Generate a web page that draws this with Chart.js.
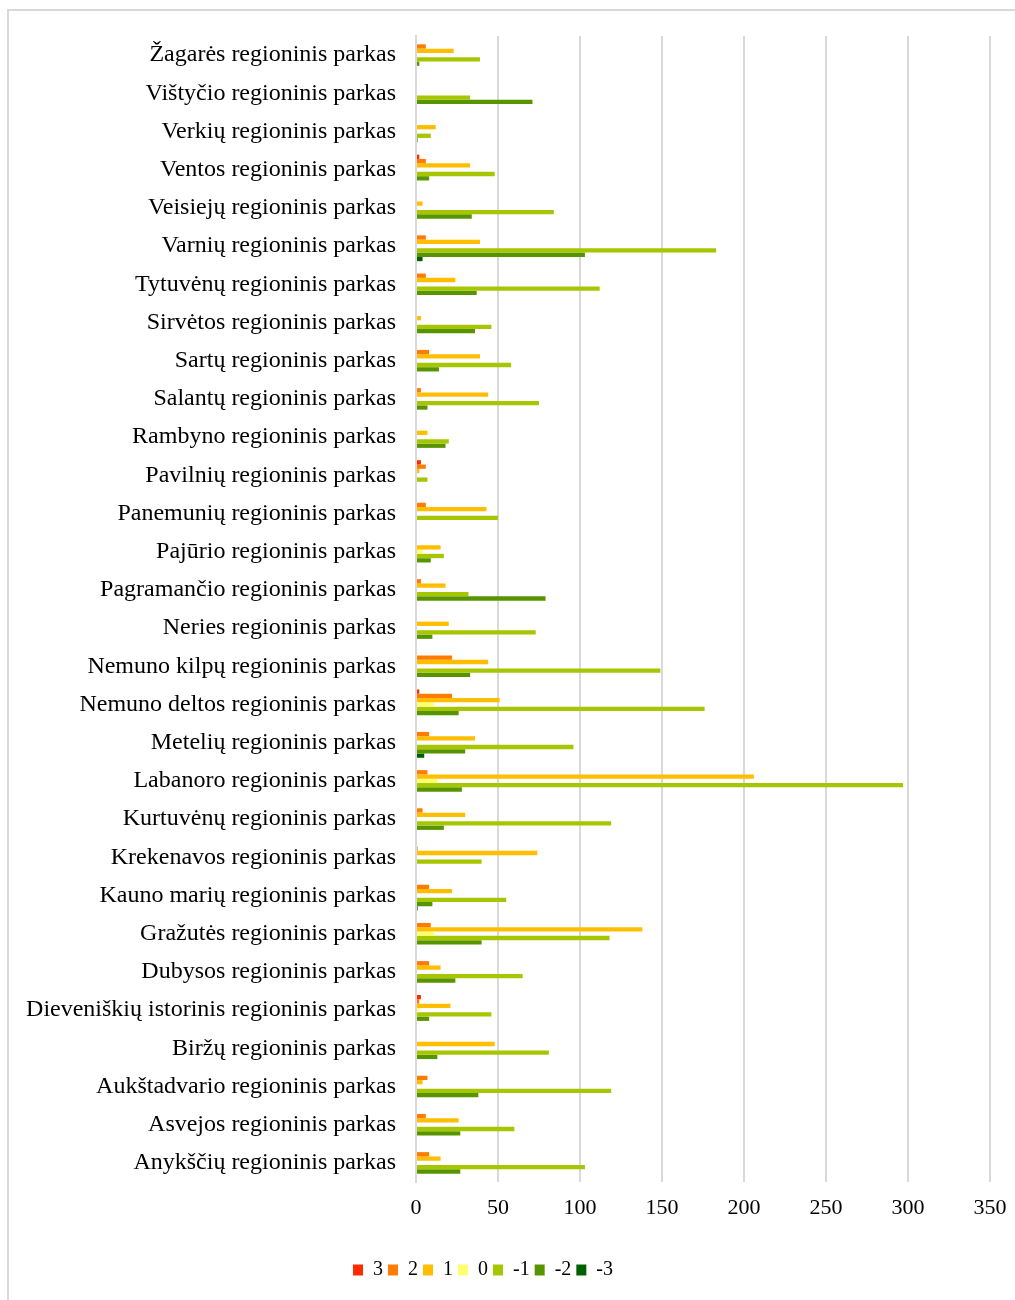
<!DOCTYPE html>
<html lang="lt">
<head>
<meta charset="utf-8">
<title>Regioniniai parkai</title>
<script src="https://cdn.jsdelivr.net/npm/chart.js@4/dist/chart.umd.min.js"></script>
<style>
  html, body { margin: 0; padding: 0; background: #fff; }
  .frame {
    position: absolute; left: 7px; top: 9px; width: 1100px; height: 1400px;
    border-left: 2px solid #d9d9d9; border-top: 2px solid #d9d9d9;
  }
  .wrap { position: absolute; left: 0; top: 0; width: 1015px; height: 1300px; }
</style>
</head>
<body>
<div class="frame"></div>
<div class="wrap"><canvas id="chart" width="1015" height="1300"></canvas></div>
<script>
const parks = [
  'Žagarės regioninis parkas',
  'Vištyčio regioninis parkas',
  'Verkių regioninis parkas',
  'Ventos regioninis parkas',
  'Veisiejų regioninis parkas',
  'Varnių regioninis parkas',
  'Tytuvėnų regioninis parkas',
  'Sirvėtos regioninis parkas',
  'Sartų regioninis parkas',
  'Salantų regioninis parkas',
  'Rambyno regioninis parkas',
  'Pavilnių regioninis parkas',
  'Panemunių regioninis parkas',
  'Pajūrio regioninis parkas',
  'Pagramančio regioninis parkas',
  'Neries regioninis parkas',
  'Nemuno kilpų regioninis parkas',
  'Nemuno deltos regioninis parkas',
  'Metelių regioninis parkas',
  'Labanoro regioninis parkas',
  'Kurtuvėnų regioninis parkas',
  'Krekenavos regioninis parkas',
  'Kauno marių regioninis parkas',
  'Gražutės regioninis parkas',
  'Dubysos regioninis parkas',
  'Dieveniškių istorinis regioninis parkas',
  'Biržų regioninis parkas',
  'Aukštadvario regioninis parkas',
  'Asvejos regioninis parkas',
  'Anykščių regioninis parkas'
];

// one array per score, same order as parks
const plus3  = [0, 0, 0, 2, 0, 0, 0, 0, 0, 0, 0, 3, 0, 0, 0, 0, 0, 2, 0, 0, 0, 0, 0, 0, 0, 3, 0, 0, 0, 0];
const plus2  = [6, 0, 0, 6, 0, 6, 6, 0, 8, 3, 0, 6, 6, 0, 3, 0, 22, 22, 8, 7, 4, 1, 8, 9, 8, 2, 0, 7, 6, 8];
const plus1  = [23, 0, 12, 33, 4, 39, 24, 3, 39, 44, 7, 2, 43, 15, 18, 20, 44, 51, 36, 206, 30, 74, 22, 138, 15, 21, 48, 4, 26, 15];
const zero   = [0, 0, 0, 0, 0, 0, 0, 0, 0, 0, 0, 0, 0, 4, 0, 0, 0, 11, 0, 13, 0, 0, 0, 11, 0, 2, 0, 0, 0, 0];
const minus1 = [39, 33, 9, 48, 84, 183, 112, 46, 58, 75, 20, 7, 50, 17, 32, 73, 149, 176, 96, 297, 119, 40, 55, 118, 65, 46, 81, 119, 60, 103];
const minus2 = [2, 71, 1, 8, 34, 103, 37, 36, 14, 7, 18, 0, 0, 9, 79, 10, 33, 26, 30, 28, 17, 0, 10, 40, 24, 8, 13, 38, 27, 27];
const minus3 = [0, 0, 0, 0, 0, 4, 0, 0, 0, 0, 0, 0, 0, 0, 0, 0, 0, 0, 5, 0, 0, 0, 1, 0, 0, 0, 0, 0, 0, 0];

const seriesNames = ['3', '2', '1', '0', '-1', '-2', '-3'];
const seriesData = [plus3, plus2, plus1, zero, minus1, minus2, minus3];
const seriesColors = ['#ff2a00', '#ff7c00', '#ffbe00', '#ffff70', '#a5c600', '#589400', '#005f00'];

const serif = '"Liberation Serif", "Times New Roman", serif';

// nudge the legend row a little to the left of the canvas centre
const legendShift = {
  id: 'legendShift',
  afterLayout(chart) {
    if (!chart.legend) return;
    chart.legend.left -= 12;
    chart.legend.right -= 12;
  }
};

new Chart(document.getElementById('chart'), {
  type: 'bar',
  data: {
    labels: parks,
    datasets: seriesNames.map((name, i) => ({
      label: name,
      data: seriesData[i],
      backgroundColor: seriesColors[i],
      borderWidth: 0,
      categoryPercentage: 0.79,
      barPercentage: 1
    }))
  },
  options: {
    indexAxis: 'y',
    responsive: false,
    animation: false,
    layout: { padding: { top: 36, right: 25, left: 0, bottom: 10 } },
    scales: {
      x: {
        min: 0,
        max: 350,
        ticks: { stepSize: 50, padding: 13, color: '#000', font: { family: serif, size: 22 } },
        grid: { color: '#d9d9d9', lineWidth: 2, drawTicks: false },
        border: { display: false },
        afterFit: scale => {
          scale.height = 73;
          scale.paddingLeft = 0;
          scale.paddingRight = 0;
        }
      },
      y: {
        ticks: { padding: 20, color: '#000', autoSkip: false, font: { family: serif, size: 24 } },
        grid: { display: false, drawTicks: false },
        border: { color: '#d9d9d9', width: 2 },
        afterFit: scale => { scale.width = 416; }
      }
    },
    plugins: {
      legend: {
        position: 'bottom',
        labels: {
          boxWidth: 10,
          boxHeight: 11,
          padding: 5,
          color: '#000',
          font: { family: serif, size: 20 }
        }
      },
      tooltip: { enabled: false }
    }
  },
  plugins: [legendShift]
});
</script>
</body>
</html>
